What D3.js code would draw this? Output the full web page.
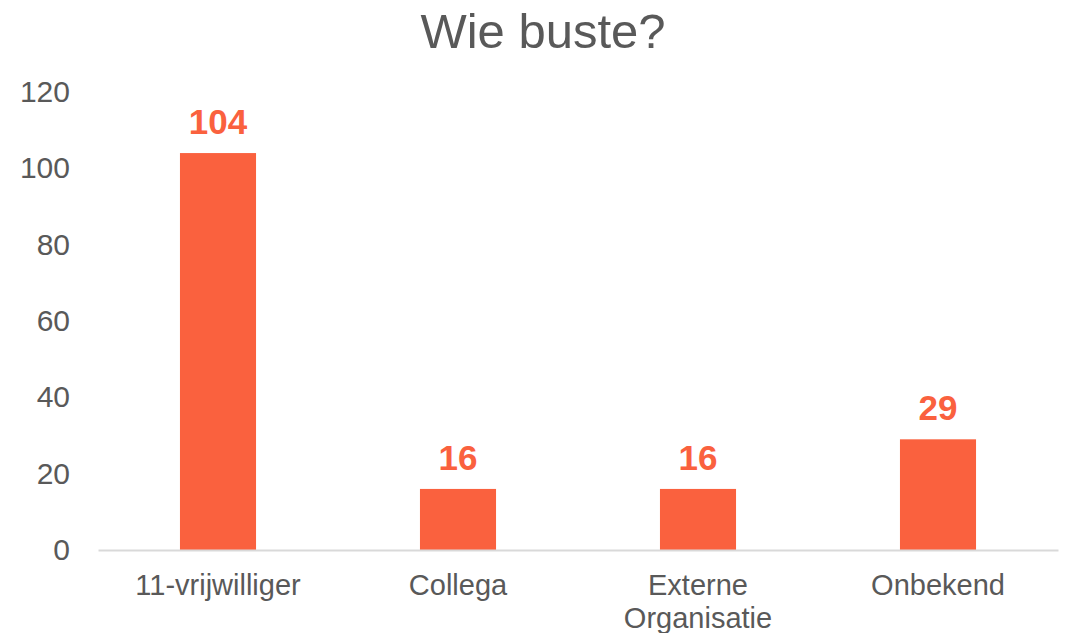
<!DOCTYPE html>
<html>
<head>
<meta charset="utf-8">
<script src="https://cdn.jsdelivr.net/npm/d3@7"></script>
<style>
  body { margin: 0; background: #fff; }
  text { font-family: "Liberation Sans", Arial, sans-serif; }
</style>
</head>
<body>
<script>
var categories = ["11-vrijwilliger", "Collega", "Externe Organisatie", "Onbekend"];
var values = [104, 16, 16, 29];
var yTicks = [0, 20, 40, 60, 80, 100, 120];
var title = "Wie buste?";

var margin = { top: 92, right: 8, bottom: 83, left: 98 },
    width = 1066 - margin.left - margin.right,
    height = 633 - margin.top - margin.bottom;

var svg = d3.select("body")
    .append("svg")
    .attr("width", 1066)
    .attr("height", 633);

var g = svg.append("g").attr("transform", "translate(" + margin.left + "," + margin.top + ")");

var x = d3.scaleBand().domain(categories).range([0, width]).paddingInner(0.683).paddingOuter(0.3415),
    y = d3.scaleLinear().domain([0, 120]).range([height, 0]);

svg.append("text")
    .attr("x", 1066 / 2 + 10)
    .attr("y", 48)
    .attr("text-anchor", "middle")
    .attr("fill", "#595959")
    .style("font-size", "49px")
    .text(title);

// y axis labels only
var yAxis = g.append("g")
    .call(d3.axisLeft(y).tickValues(yTicks).tickSize(0).tickPadding(28));
yAxis.select(".domain").remove();
yAxis.selectAll("text")
    .attr("fill", "#595959")
    .style("font-size", "30px");

// bars
g.selectAll("rect")
    .data(values)
    .enter().append("rect")
    .attr("x", function (d, i) { return x(categories[i]); })
    .attr("y", function (d) { return y(d); })
    .attr("width", x.bandwidth())
    .attr("height", function (d) { return height - y(d); })
    .attr("fill", "#FA613E");

// baseline
var xAxis = g.append("g")
    .attr("transform", "translate(0," + height + ")")
    .call(d3.axisBottom(x).tickSize(0).tickPadding(0).tickFormat(""));
xAxis.select(".domain").attr("stroke", "#D9D9D9").attr("stroke-width", 2);

// category labels, wrapped like the original
var labels = g.selectAll(".cat")
    .data(categories)
    .enter().append("text")
    .attr("class", "cat")
    .attr("text-anchor", "middle")
    .attr("fill", "#595959")
    .style("font-size", "29px")
    .attr("transform", function (d) { return "translate(" + (x(d) + x.bandwidth() / 2) + "," + (height + 45) + ")"; });
labels.each(function (d) {
    var words = d === "Externe Organisatie" ? d.split(" ") : [d];
    var t = d3.select(this);
    words.forEach(function (w, k) {
        t.append("tspan").attr("x", 0).attr("dy", k === 0 ? 0 : 33).text(w);
    });
});

// value labels
g.selectAll(".val")
    .data(values)
    .enter().append("text")
    .attr("class", "val")
    .attr("x", function (d, i) { return x(categories[i]) + x.bandwidth() / 2; })
    .attr("y", function (d) { return y(d) - 19; })
    .attr("text-anchor", "middle")
    .attr("fill", "#FA613E")
    .style("font-size", "35px")
    .style("font-weight", "bold")
    .text(function (d) { return d; });
</script>
</body>
</html>
